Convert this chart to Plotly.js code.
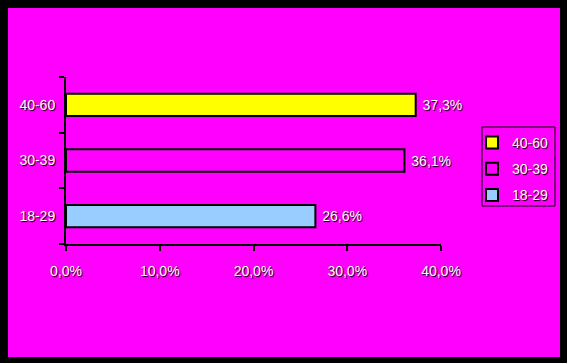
<!DOCTYPE html>
<html>
<head>
<meta charset="utf-8">
<script src="https://cdn.plot.ly/plotly-3.0.1.min.js"></script>
<style>
html,body{margin:0;padding:0;background:#000;width:567px;height:363px;overflow:hidden;}
#chart{position:absolute;left:8px;top:8px;width:552px;height:349px;}
</style>
</head>
<body>
<div id="chart"></div>
<script>
const categories = ['40-60', '30-39', '18-29'];
const values = [0.373, 0.361, 0.266];
const colors = ['#FFFF00', '#FF00FF', '#99CCFF'];
const axisOrder = ['18-29', '30-39', '40-60'];
const xTicks = [0, 0.1, 0.2, 0.3, 0.4];

const fontFam = '"Liberation Sans", Arial, sans-serif';
const txtFont = {family: fontFam, size: 14, color: '#ffffff', shadow: '1px 1px 1px #000'};

const traces = categories.map((c, i) => ({
  type: 'bar',
  orientation: 'h',
  name: c,
  legendgroup: c,
  y: [c],
  x: [values[i]],
  width: 0.4,
  marker: {color: colors[i], line: {color: '#000', width: 2}},
  texttemplate: ' %{x:.1%}',
  textposition: 'outside',
  cliponaxis: false,
  textfont: txtFont,
  hoverinfo: 'none'
}));

const layout = {
  width: 552, height: 349,
  paper_bgcolor: '#FF00FF',
  plot_bgcolor: '#FF00FF',
  separators: ', ',
  barmode: 'overlay',
  margin: {l: 58, r: 119, t: 69, b: 113, autoexpand: false},
  font: txtFont,
  xaxis: {
    range: [0, 0.4],
    tickvals: xTicks,
    tickformat: '.1%',
    showgrid: false, zeroline: false,
    showline: true, linecolor: '#000', linewidth: 2,
    ticks: 'outside', ticklen: 5, tickcolor: '#000', tickwidth: 2,
    ticklabelstandoff: 8,
    tickfont: txtFont,
    automargin: false,
    fixedrange: true
  },
  yaxis: {
    type: 'category',
    categoryorder: 'array',
    categoryarray: axisOrder,
    range: [-0.5, 2.5],
    showgrid: false, zeroline: false,
    showline: true, linecolor: '#000', linewidth: 2,
    ticks: 'outside', ticklen: 5, tickcolor: '#000', tickwidth: 2,
    tickson: 'boundaries',
    ticklabelstandoff: 6,
    tickfont: txtFont,
    automargin: false,
    fixedrange: true
  },
  shapes: [{
    type: 'rect', xref: 'paper', yref: 'paper',
    x0: 1.1093, x1: 1.304, y0: 0.2275, y1: 0.7006,
    line: {color: '#000', width: 1}, fillcolor: 'rgba(0,0,0,0)', layer: 'below'
  }],
  showlegend: true,
  legend: {
    xref: 'container', yref: 'container',
    x: 0.8406, y: 0.659, xanchor: 'left', yanchor: 'top',
    bgcolor: 'rgba(0,0,0,0)', borderwidth: 0,
    font: txtFont,
    traceorder: 'grouped',
    tracegroupgap: 5,
    itemwidth: 30
  }
};

Plotly.newPlot('chart', traces, layout, {displayModeBar: false, staticPlot: true});
</script>
</body>
</html>
